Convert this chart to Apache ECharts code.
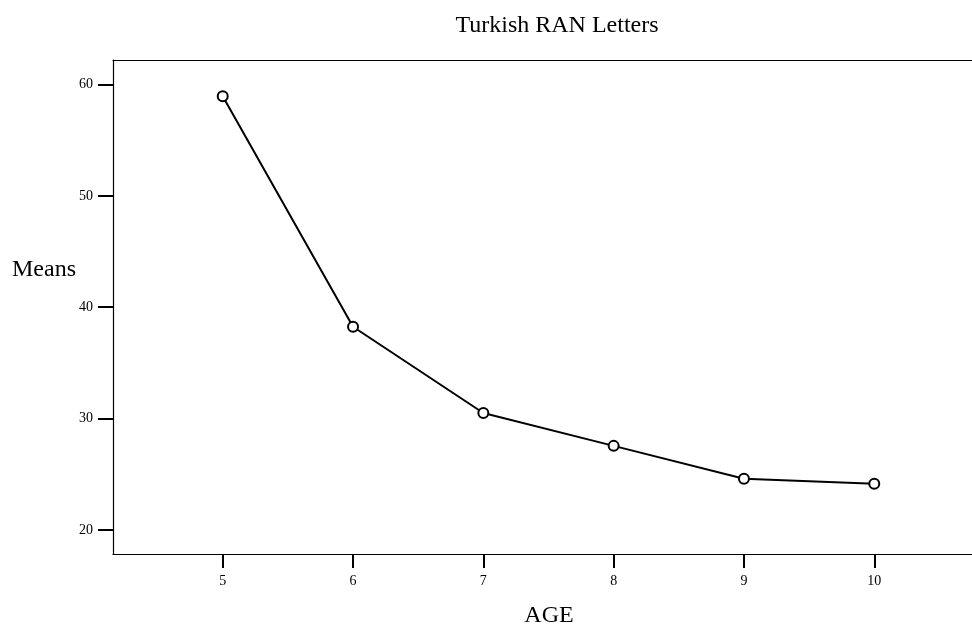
<!DOCTYPE html>
<html>
<head>
<meta charset="utf-8">
<script src="https://cdn.jsdelivr.net/npm/echarts@6/dist/echarts.min.js"></script>
<style>html,body{margin:0;padding:0;background:#fff}#c{width:972px;height:629px}</style>
</head>
<body>
<div id="c"></div>
<script>
const ages = [5, 6, 7, 8, 9, 10];
const means = [58.95, 38.25, 30.5, 27.55, 24.6, 24.15];
const yTicks = [20, 30, 40, 50, 60];
const xTicks = [5, 6, 7, 8, 9, 10];
const titleText = 'Turkish RAN Letters';
const xName = 'AGE';
const yName = 'Means';

const font = 'Liberation Serif';
const chart = echarts.init(document.getElementById('c'));
chart.setOption({
  animation: false,
  backgroundColor: '#fff',
  grid: { left: 113, top: 60, right: 0, bottom: 75, show: false },
  xAxis: [{
    type: 'value', min: 4.158, max: 10.75,
    axisLine: { show: true, onZero: false, lineStyle: { color: '#000', width: 1.2 } },
    axisTick: { show: true, length: 14, lineStyle: { color: '#000', width: 2 }, customValues: xTicks },
    axisLabel: { color: '#000', fontFamily: font, fontSize: 14, margin: 20, customValues: xTicks },
    splitLine: { show: false }
  }, {
    type: 'value', position: 'top', min: 4.158, max: 10.75,
    axisLine: { show: true, onZero: false, lineStyle: { color: '#000', width: 1.2 } },
    axisTick: { show: false }, axisLabel: { show: false }, splitLine: { show: false }
  }],
  yAxis: {
    type: 'value', min: 17.84, max: 62.2,
    axisLine: { show: true, onZero: false, lineStyle: { color: '#000', width: 1.2 } },
    axisTick: { show: true, length: 15, lineStyle: { color: '#000', width: 2 }, customValues: yTicks },
    axisLabel: { color: '#000', fontFamily: font, fontSize: 14, margin: 20, customValues: yTicks },
    splitLine: { show: false }
  },
  graphic: [
    { type: 'text', x: 557, y: 26, style: { text: titleText, font: '24px "Liberation Serif"', fill: '#000', align: 'center', verticalAlign: 'middle' } },
    { type: 'text', x: 549, y: 616, style: { text: xName, font: '24px "Liberation Serif"', fill: '#000', align: 'center', verticalAlign: 'middle' } },
    { type: 'text', x: 12, y: 270, style: { text: yName, font: '24px "Liberation Serif"', fill: '#000', align: 'left', verticalAlign: 'middle' } }
  ],
  series: [{
    type: 'line',
    data: ages.map((a, i) => [a, means[i]]),
    symbol: 'emptyCircle', symbolSize: 10,
    lineStyle: { color: '#000', width: 2 },
    itemStyle: { color: '#000', borderColor: '#000', borderWidth: 2.2 }
  }]
});
</script>
</body>
</html>
